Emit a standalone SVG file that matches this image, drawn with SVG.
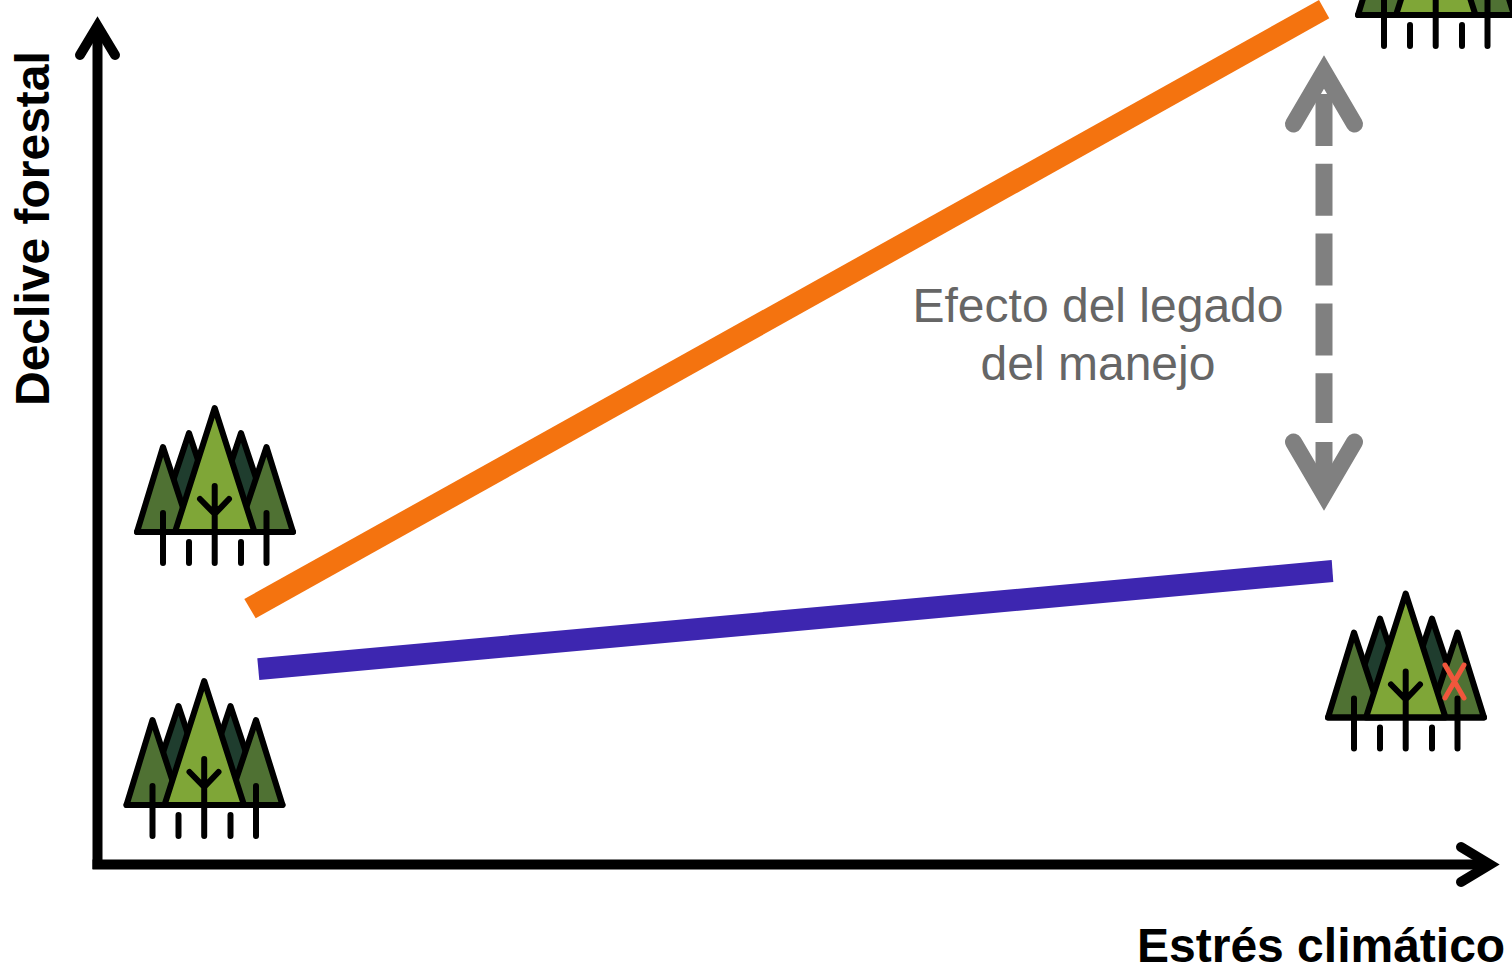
<svg xmlns="http://www.w3.org/2000/svg" width="1512" height="980" viewBox="0 0 1512 980">
<style>
.ax{fill:none;stroke:#000;stroke-width:10}
.axh{fill:none;stroke:#000;stroke-width:10;stroke-linecap:round;stroke-linejoin:miter;stroke-miterlimit:10}
.t{stroke:#000;stroke-width:6;stroke-linecap:round;stroke-linejoin:round}
.n{fill:none}
.d{fill:#1f3d2e}
.m{fill:#4f7133}
.l{fill:#7fa637}
.lbl{font-family:"Liberation Sans",Arial,sans-serif;font-weight:bold;font-size:48px;fill:#000}
.eff{font-family:"Liberation Sans",Arial,sans-serif;font-size:48px;fill:#666;text-anchor:middle}
.g{fill:none;stroke:#808080;stroke-width:17}
.gh{fill:none;stroke:#808080;stroke-width:17;stroke-linecap:round;stroke-linejoin:miter;stroke-miterlimit:10}
</style>
<defs>
<g id="forest">
<path class="t d" d="M165 505L189 433L213 505Z"/>
<path class="t d" d="M217 505L241 433L265 505Z"/>
<path class="t m" d="M137 532L163 447L191 532Z"/>
<path class="t m" d="M238 532L266.500 447L293 532Z"/>
<path class="t l" d="M175 532L214.700 408L254.500 532Z"/>
<path class="t n" d="M137 532H293M163 513V563M189 542V563M214.700 486V563M241 542V563M266.500 513V563M200 499L214.700 514L229 499"/>
</g>
</defs>
<g id="axes">
<path class="ax" d="M97.500 869V30"/>
<path class="axh" d="M80 55L97.500 26L115 55"/>
<path class="ax" d="M92.500 864.500H1488"/>
<path class="axh" d="M1461 847L1490 864.500L1461 882"/>
</g>
<g id="connectors">
<path d="M244.300 599L1319 0L1329.300 18.300L255.700 618.300Z" fill="#f4730f"/>
<path d="M257.300 658.300L1331.700 560L1333.300 582L259.300 680Z" fill="#3d26b0"/>
<path class="g" stroke-dasharray="52 17.800" d="M1324 94V423"/>
<path class="g" d="M1324 442V480"/>
<path class="gh" d="M1293.500 124L1324 72L1354.500 124"/>
<path class="gh" d="M1293.500 442L1324 494L1354.500 442"/>
</g>
<g id="forest-top-left"><use href="#forest"/></g>
<g id="forest-bottom-left"><use href="#forest" transform="translate(-10.500 273)"/></g>
<g id="forest-top-right"><use href="#forest" transform="translate(1221 -517)"/></g>
<g id="forest-bottom-right"><use href="#forest" transform="translate(1191 185.500)"/>
<path d="M1445 665L1464 698M1464 665L1445 698" fill="none" stroke="#f0563c" stroke-width="5" stroke-linecap="round"/></g>
<g id="labels">
<text class="lbl" transform="translate(49 406) rotate(-90)">Declive forestal</text>
<text class="lbl" x="1137" y="962">Estrés climático</text>
<text class="eff" x="1098" y="322">Efecto del legado</text>
<text class="eff" x="1098" y="380">del manejo</text>
</g>
</svg>
